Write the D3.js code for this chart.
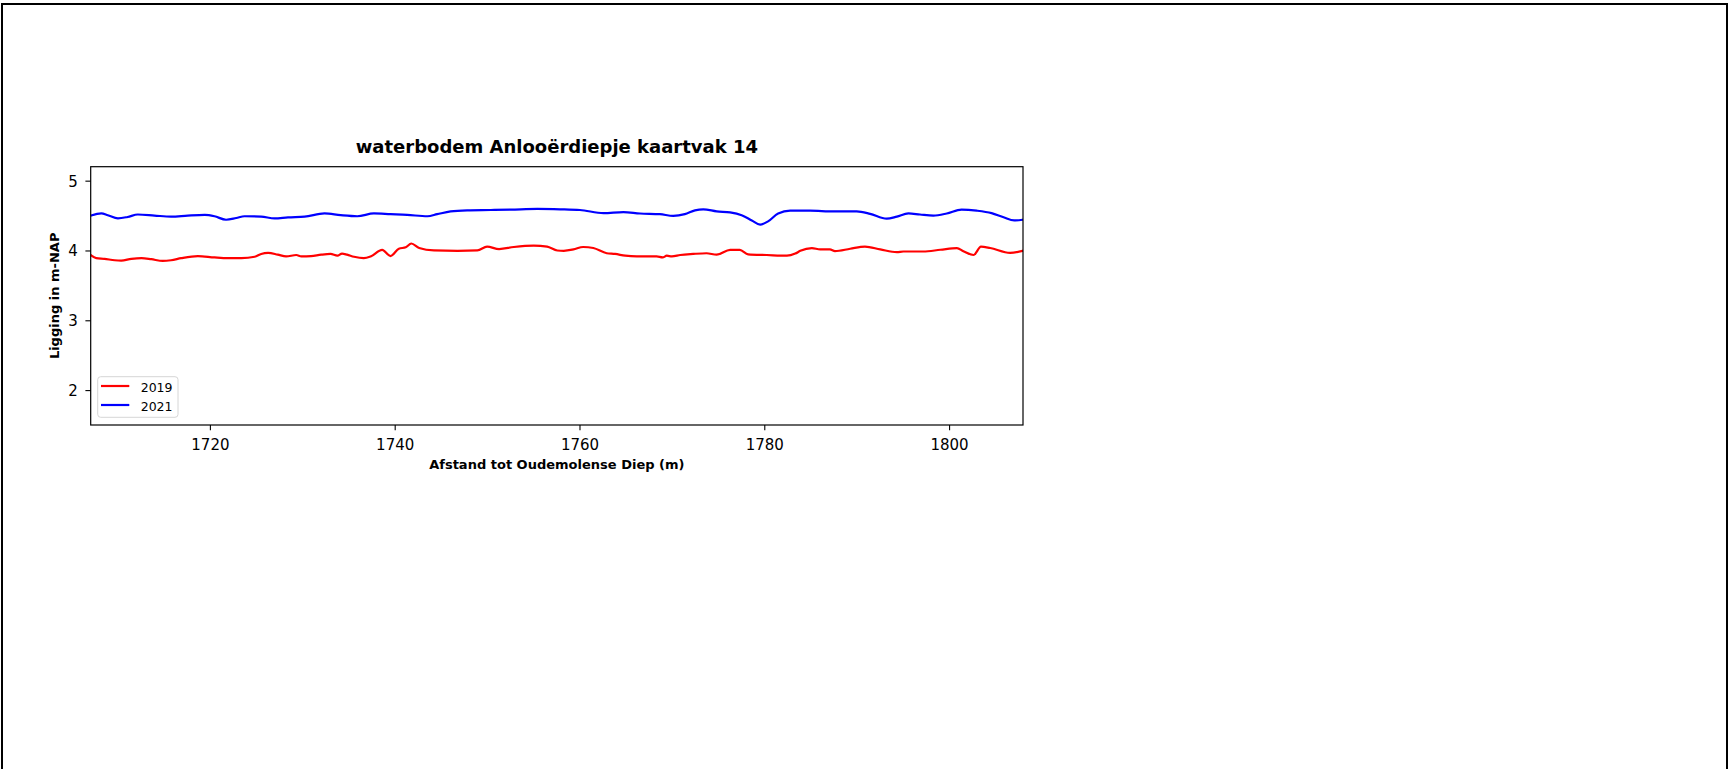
<!DOCTYPE html>
<html>
<head>
<meta charset="utf-8">
<script src="https://cdn.jsdelivr.net/npm/d3@7"></script>
<style>
  html, body { margin: 0; padding: 0; background: #fff; }
  svg { display: block; }
  text { font-family: "DejaVu Sans", sans-serif; fill: #000; }
</style>
</head>
<body>
<svg id="chart" width="1729" height="769"></svg>
<script>
// Bed level profile, 2019 survey (distance in m, level in m-NAP)
const dist2019 = [1707.15, 1707.7, 1708.6, 1709.7, 1710.4, 1711.5, 1712.6, 1713.65, 1714.9, 1715.8,
  1716.9, 1718.7, 1720.5, 1721.95, 1723.4, 1724.85, 1725.55, 1726.3, 1727.35, 1728.25,
  1729.35, 1729.9, 1730.95, 1732.05, 1733.05, 1733.8, 1734.3, 1734.85, 1735.6, 1736.65,
  1737.4, 1738.65, 1739.55, 1740.45, 1741.2, 1741.8, 1742.65, 1744.25, 1746.8, 1748.95,
  1750.0, 1751.3, 1752.9, 1755.05, 1756.5, 1757.6, 1758.3, 1759.35, 1760.4, 1761.5,
  1762.95, 1763.85, 1764.95, 1766.2, 1768.35, 1769.0, 1769.45, 1770.0, 1770.9, 1772.3,
  1773.75, 1774.85, 1776.3, 1777.35, 1778.25, 1780.25, 1782.45, 1783.35, 1783.9, 1785.15,
  1786.05, 1787.1, 1787.65, 1789.3, 1790.9, 1792.55, 1794.35, 1795.05, 1797.2, 1799.05,
  1800.85, 1801.55, 1802.65, 1803.45, 1804.45, 1806.6, 1807.95];
const depth2019 = [3.93, 3.89, 3.88, 3.86, 3.856, 3.88, 3.89, 3.875, 3.85, 3.86,
  3.89, 3.92, 3.90, 3.89, 3.89, 3.91, 3.95, 3.965, 3.94, 3.915,
  3.935, 3.915, 3.92, 3.94, 3.95, 3.925, 3.955, 3.94, 3.91, 3.89,
  3.915, 4.01, 3.92, 4.025, 4.045, 4.10, 4.035, 4.00, 3.995, 4.00,
  4.055, 4.02, 4.05, 4.07, 4.055, 4.00, 3.995, 4.015, 4.05, 4.035,
  3.96, 3.95, 3.925, 3.915, 3.915, 3.90, 3.925, 3.915, 3.935, 3.95,
  3.96, 3.94, 4.01, 4.01, 3.945, 3.935, 3.925, 3.955, 3.995, 4.035,
  4.015, 4.015, 3.99, 4.025, 4.055, 4.015, 3.975, 3.985, 3.985, 4.01,
  4.035, 3.99, 3.935, 4.055, 4.035, 3.965, 3.995];

// Bed level profile, 2021 survey
const dist2021 = [1707.15, 1708.25, 1708.95, 1710.05, 1711.1, 1712.2, 1714.0, 1715.8, 1717.6, 1719.45,
  1720.5, 1721.75, 1722.85, 1723.75, 1725.55, 1727.0, 1728.45, 1730.25, 1732.4, 1734.15,
  1735.95, 1737.75, 1739.55, 1741.35, 1743.55, 1744.6, 1746.05, 1747.85, 1750.4, 1752.55,
  1755.45, 1757.9, 1760.05, 1762.6, 1764.75, 1766.55, 1768.7, 1770.15, 1771.4, 1772.5,
  1773.4, 1774.85, 1776.3, 1777.55, 1778.65, 1779.55, 1780.45, 1781.5, 1782.8, 1784.95,
  1787.5, 1790.0, 1791.45, 1793.25, 1794.35, 1795.6, 1796.85, 1798.3, 1799.75, 1801.35,
  1803.0, 1804.6, 1805.9, 1807.05, 1807.95];
const depth2021 = [4.50, 4.53, 4.505, 4.46, 4.48, 4.515, 4.50, 4.485, 4.50, 4.51,
  4.49, 4.44, 4.465, 4.49, 4.485, 4.46, 4.475, 4.485, 4.53, 4.505,
  4.49, 4.53, 4.52, 4.51, 4.49, 4.52, 4.56, 4.575, 4.58, 4.585,
  4.595, 4.59, 4.58, 4.535, 4.55, 4.53, 4.52, 4.495, 4.52, 4.575,
  4.59, 4.56, 4.545, 4.505, 4.43, 4.37, 4.42, 4.53, 4.57, 4.57,
  4.56, 4.56, 4.525, 4.455, 4.485, 4.53, 4.515, 4.50, 4.53, 4.585,
  4.57, 4.535, 4.475, 4.43, 4.44];

const seriesNames = ["2019", "2021"];
const seriesColors = ["#ff0000", "#0000ff"];

const xTicks = [1720, 1740, 1760, 1780, 1800];
const yTicks = [2, 3, 4, 5];
const xLimits = [1707.1, 1808.0];
const yLimits = [1.5, 5.2];

const titleText = "waterbodem Anlooërdiepje kaartvak 14";
const xLabelText = "Afstand tot Oudemolense Diep (m)";
const yLabelText = "Ligging in m-NAP";

// ---- layout ----
const svg = d3.select("#chart");
const W = 1729, H = 769;
const plot = { left: 90.7, right: 1023, top: 166.7, bottom: 425 };

// outer frame of the figure
svg.append("rect")
  .attr("x", 2).attr("y", 4).attr("width", W - 4).attr("height", H + 20)
  .attr("fill", "none").attr("stroke", "#000").attr("stroke-width", 2);

const x = d3.scaleLinear().domain(xLimits).range([plot.left, plot.right]);
const y = d3.scaleLinear().domain(yLimits).range([plot.bottom, plot.top]);

// clip the profiles to the axes area
svg.append("clipPath").attr("id", "plotclip")
  .append("rect")
  .attr("x", plot.left).attr("y", plot.top)
  .attr("width", plot.right - plot.left).attr("height", plot.bottom - plot.top);

const series = [
  { name: seriesNames[0], color: seriesColors[0], xs: dist2019, ys: depth2019 },
  { name: seriesNames[1], color: seriesColors[1], xs: dist2021, ys: depth2021 }
];

const line = d3.line()
  .x(d => x(d[0]))
  .y(d => y(d[1]))
  .curve(d3.curveMonotoneX);

const lines = svg.append("g").attr("clip-path", "url(#plotclip)");
series.forEach(s => {
  const pts = s.xs.map((v, i) => [v, s.ys[i]]);
  lines.append("path")
    .datum(pts)
    .attr("d", line)
    .attr("fill", "none")
    .attr("stroke", s.color)
    .attr("stroke-width", 2.2)
    .attr("stroke-linejoin", "round")
    .attr("stroke-linecap", "square");
});

// axes
const xAxis = d3.axisBottom(x).tickValues(xTicks).tickFormat(d3.format("d"))
  .tickSize(5.3).tickPadding(5.3);
const gx = svg.append("g").attr("transform", `translate(0,${plot.bottom})`).call(xAxis);
gx.select(".domain").remove();
gx.selectAll(".tick line").attr("stroke", "#000").attr("stroke-width", 1.1);
gx.selectAll(".tick text")
  .attr("y", 25).attr("dy", 0)
  .style("font-family", "'DejaVu Sans', sans-serif")
  .style("font-size", "15px").attr("fill", "#000");

const yAxis = d3.axisLeft(y).tickValues(yTicks).tickFormat(d3.format("d"))
  .tickSize(5.3).tickPadding(7.5);
const gy = svg.append("g").attr("transform", `translate(${plot.left},0)`).call(yAxis);
gy.select(".domain").remove();
gy.selectAll(".tick line").attr("stroke", "#000").attr("stroke-width", 1.1);
gy.selectAll(".tick text")
  .attr("dy", "0.36em")
  .style("font-family", "'DejaVu Sans', sans-serif")
  .style("font-size", "15px").attr("fill", "#000");

// axes frame
svg.append("rect")
  .attr("x", plot.left).attr("y", plot.top)
  .attr("width", plot.right - plot.left).attr("height", plot.bottom - plot.top)
  .attr("fill", "none").attr("stroke", "#000").attr("stroke-width", 1.2);

// title and axis labels
svg.append("text")
  .attr("x", (plot.left + plot.right) / 2).attr("y", 153)
  .attr("text-anchor", "middle")
  .style("font-size", "18px").style("font-weight", "bold")
  .text(titleText);

svg.append("text")
  .attr("x", (plot.left + plot.right) / 2).attr("y", 469)
  .attr("text-anchor", "middle")
  .style("font-size", "13px").style("font-weight", "bold")
  .text(xLabelText);

svg.append("text")
  .attr("transform", `translate(58.5,${(plot.top + plot.bottom) / 2}) rotate(-90)`)
  .attr("text-anchor", "middle")
  .style("font-size", "13px").style("font-weight", "bold")
  .text(yLabelText);

// legend
const legend = svg.append("g");
legend.append("rect")
  .attr("x", 97.7).attr("y", 376.7).attr("width", 80.3).attr("height", 40.6)
  .attr("rx", 3).attr("ry", 3)
  .attr("fill", "#fff").attr("fill-opacity", 0.8)
  .attr("stroke", "#d6d6d6").attr("stroke-width", 1);
series.forEach((s, i) => {
  const ly = 386 + i * 19;
  legend.append("line")
    .attr("x1", 101).attr("x2", 129.3).attr("y1", ly).attr("y2", ly)
    .attr("stroke", s.color).attr("stroke-width", 2.2);
  legend.append("text")
    .attr("x", 140.7).attr("y", ly + 6.3)
    .style("font-size", "12.5px")
    .text(s.name);
});
</script>
</body>
</html>
